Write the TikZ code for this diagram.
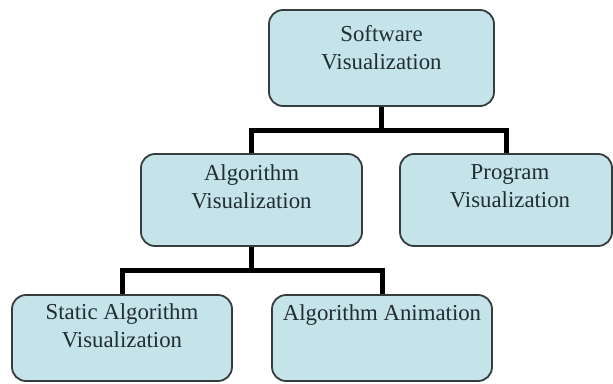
\documentclass[tikz,border=0pt]{standalone}
\usepackage{fontspec}
\setmainfont{Liberation Serif}
\definecolor{boxfill}{RGB}{196,228,234}
\definecolor{boxedge}{RGB}{55,60,62}
\definecolor{inktext}{RGB}{34,44,54}
\tikzset{
  box/.style={draw=boxedge, line width=1.8pt, fill=boxfill, rounded corners=14pt,
              inner sep=0pt, minimum width=#1},
  box/.default=220pt,
  lbl/.style={inner sep=0pt, align=center, text=inktext,
              font=\fontsize{22.8}{27.5}\selectfont},
  conn/.style={draw=black, line width=5pt, line join=miter}
}
\begin{document}
\begin{tikzpicture}[x=1pt, y=-1pt]
  \useasboundingbox (0,0) rectangle (613,383);

  % boxes
  \node[box=225pt, minimum height=96pt] (sw) at (381.5,58) {};
  \node[box=221pt, minimum height=92pt] (av) at (251.5,200) {};
  \node[box=212pt, minimum height=92pt] (pv) at (506,200) {};
  \node[box=220pt, minimum height=86pt] (sa) at (122,338) {};
  \node[box=220pt, minimum height=86pt] (aa) at (382,338) {};

  % tree connectors
  \draw[conn] (sw.south) -- ++(0,24) -| (av.north);
  \draw[conn] (sw.south) -- ++(0,24) -| (pv.north);
  \draw[conn] (av.south) -- ++(0,24) -| (sa.north);
  \draw[conn] (av.south) -- ++(0,24) -| (aa.north);

  % labels
  \node[lbl, anchor=north] (swt) at (381.5,25.5) {Software\\Visualization};
  \node[lbl, anchor=north] (avt) at (251.5,164.5) {Algorithm\\Visualization};
  \node[lbl, anchor=north] (pvt) at (510,164.5) {Program\\Visualization};
  \node[lbl, anchor=north] (sat) at (122,303.5) {Static Algorithm\\Visualization};
  \node[lbl, anchor=base] (aat) at (382,320) {Algorithm Animation};
\end{tikzpicture}
\end{document}
